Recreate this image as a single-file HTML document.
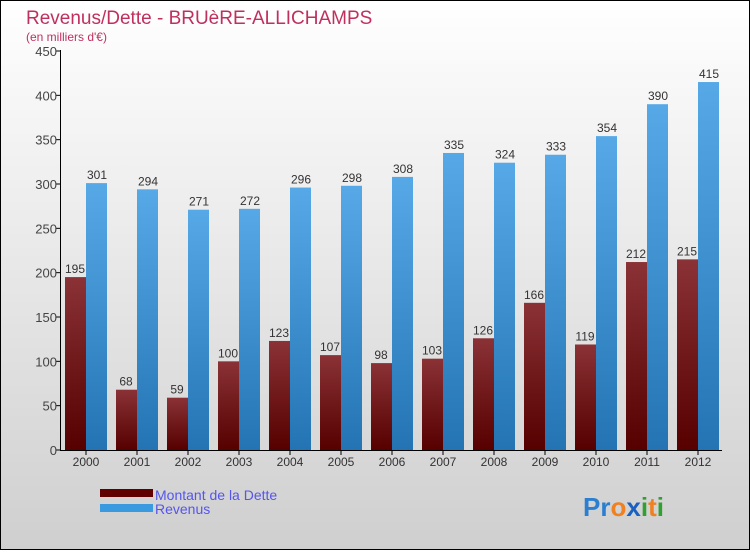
<!DOCTYPE html>
<html><head><meta charset="utf-8"><style>
body{margin:0}
#c{width:750px;height:550px;position:relative;font-family:"Liberation Sans",sans-serif}
</style></head><body>
<div id="c">
<svg width="750" height="550" xmlns="http://www.w3.org/2000/svg" id="svg">
<defs>
<linearGradient id="bg" x1="0" y1="0" x2="0" y2="1"><stop offset="0" stop-color="#ffffff"/><stop offset="1" stop-color="#cfcfcf"/></linearGradient>
<linearGradient id="gd" x1="0" y1="0" x2="0" y2="1"><stop offset="0" stop-color="#8a3236"/><stop offset="1" stop-color="#560000"/></linearGradient>
<linearGradient id="gr" x1="0" y1="0" x2="0" y2="1"><stop offset="0" stop-color="#56a9e6"/><stop offset="1" stop-color="#2474b4"/></linearGradient>
</defs>
<rect x="0.5" y="0.5" width="749" height="549" fill="url(#bg)" stroke="#000"/>
<text x="26" y="24" font-size="19" fill="#c0305e">Revenus/Dette - BRUèRE-ALLICHAMPS</text>
<text x="26" y="41" font-size="12" fill="#c0305e">(en milliers d'€)</text>
<g id="plot"></g>
<rect x="100" y="489" width="53" height="8" fill="#600000"/>
<text x="155" y="500" font-size="14" fill="#5555ee">Montant de la Dette</text>
<rect x="100" y="504" width="53" height="8" fill="#3a9ae0"/>
<text x="155" y="514" font-size="14" fill="#5555ee">Revenus</text>
<text x="583" y="516" font-size="26" font-weight="bold"><tspan fill="#2a7fd0">Pr</tspan><tspan fill="#f08020">o</tspan><tspan fill="#1a60c0">x</tspan><tspan fill="#30a030">i</tspan><tspan fill="#f08020">t</tspan><tspan fill="#30a030">i</tspan></text>
</svg>
</div>
<script>
const years=["2000","2001","2002","2003","2004","2005","2006","2007","2008","2009","2010","2011","2012"];
const dette=[195,68,59,100,123,107,98,103,126,166,119,212,215];
const revenus=[301,294,271,272,296,298,308,335,324,333,354,390,415];
const yTicks=[0,50,100,150,200,250,300,350,400,450];
const NS="http://www.w3.org/2000/svg";
const g=document.getElementById('plot');
const y=v=>450-v*399/450;
const xc=i=>86+i*51.0;
function mk(t,a){const e=document.createElementNS(NS,t);for(const k in a)e.setAttribute(k,a[k]);g.appendChild(e);return e;}
yTicks.forEach(v=>{
 const l=mk('line',{x1:56,x2:61,y1:y(v),y2:y(v),stroke:'#000'});
 
 
 const t=mk('text',{x:57,y:y(v)+5,'font-size':13,fill:'#444','text-anchor':'end'});
 t.textContent=v;
 
 
});
years.forEach((yr,i)=>{
 const c=xc(i);
 const b1=mk('rect',{x:c-21,y:y(dette[i]),width:21,height:450-y(dette[i]),fill:'url(#gd)'});
 
 
 const b2=mk('rect',{x:c,y:y(revenus[i]),width:21,height:450-y(revenus[i]),fill:'url(#gr)'});
 
 
 const t1=mk('text',{x:c-11,y:y(dette[i])-4,'font-size':12,fill:'#333','text-anchor':'middle'});
 t1.textContent=dette[i];
 
 
 const t2=mk('text',{x:c+11,y:y(revenus[i])-4,'font-size':12,fill:'#333','text-anchor':'middle'});
 t2.textContent=revenus[i];
 
 
 const tk=mk('line',{x1:c,x2:c,y1:450,y2:455,stroke:'#000'});
 
 
 const xl=mk('text',{x:c,y:466,'font-size':12,fill:'#333','text-anchor':'middle'});
 xl.textContent=yr;
 
 
});
const ya=mk('line',{x1:60.5,x2:60.5,y1:50,y2:451,stroke:'#000'});


const xa=mk('line',{x1:60,x2:722,y1:450.5,y2:450.5,stroke:'#000'});


</script>
</body></html>
